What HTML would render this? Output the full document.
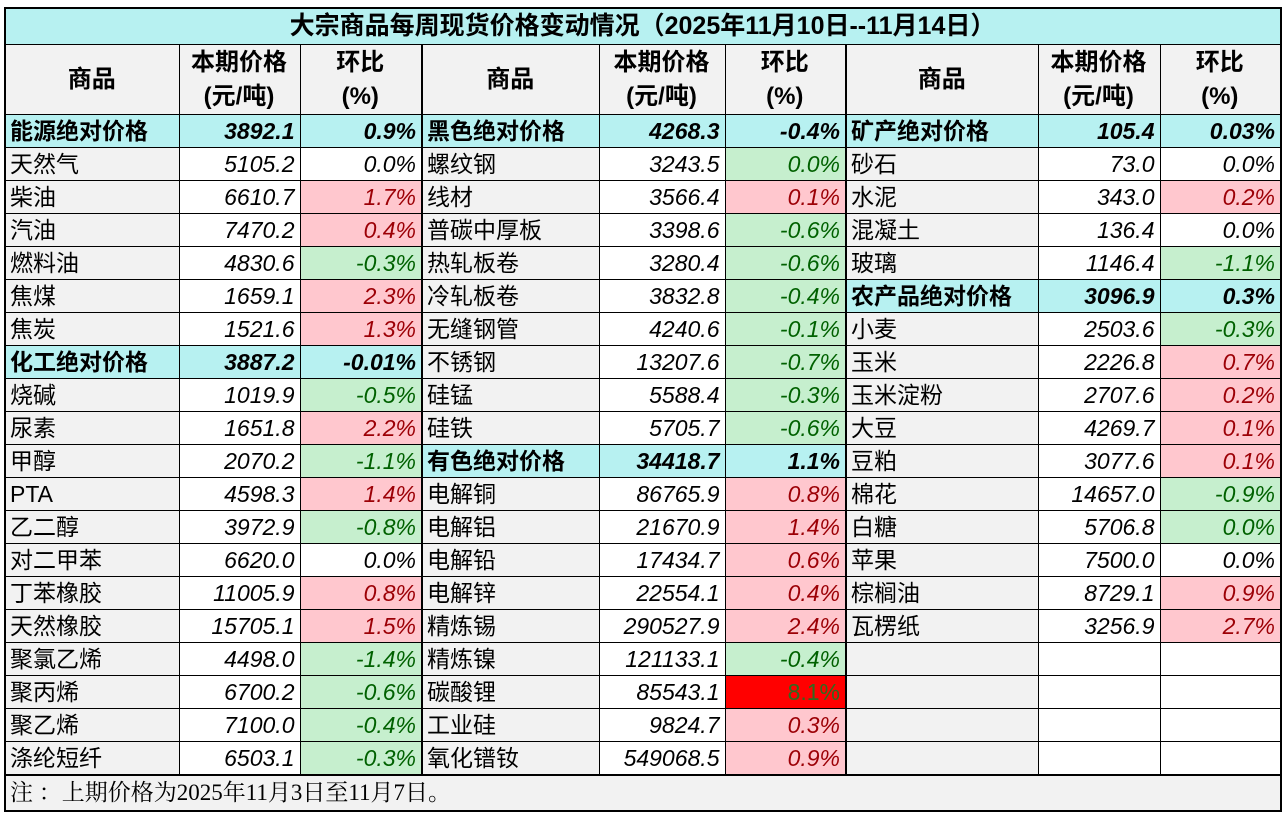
<!DOCTYPE html>
<html><head><meta charset="utf-8"><style>
html,body{margin:0;padding:0;background:#fff;width:1286px;height:820px;overflow:hidden}
table{position:absolute;left:4px;top:7px;border-collapse:collapse;table-layout:fixed;font-family:"Liberation Sans","Noto Sans CJK SC",sans-serif;border:2px solid #000}
td{border:1px solid #000;padding:0 5px 0 4px;height:32px;font-size:23px;white-space:nowrap;overflow:hidden;color:#000;line-height:32px}
.t td{height:35px;background:#b7f1f1;font-weight:bold;text-align:center;font-size:25px;line-height:35px}
.h td{height:69px;background:#f2f2f2;font-weight:bold;text-align:center;font-size:24px;line-height:34px}
.n{background:#f2f2f2;text-align:left}
.v{background:#fff;text-align:right;font-style:italic}
.c{background:#b7f1f1;font-weight:bold}
.c.v{font-style:italic}
.p{background:#ffc7ce;color:#9c0006;text-align:right;font-style:italic}
.g{background:#c6efce;color:#006100;text-align:right;font-style:italic}
.z{background:#fff;text-align:right;font-style:italic}
.r{background:#ff0000;color:#2e6b1e;text-align:right}
.e{background:#fff}
.f td{height:34px;background:#f2f2f2;font-family:"Liberation Serif","Noto Serif CJK SC",serif;font-size:23px}
.b3{border-right:2px solid #000}
</style></head><body>
<table>
<colgroup><col style="width:174px"><col style="width:121px"><col style="width:122px"><col style="width:177px"><col style="width:126px"><col style="width:121px"><col style="width:192px"><col style="width:122px"><col style="width:121px"></colgroup>
<tr class="t"><td colspan="9">大宗商品每周现货价格变动情况（2025年11月10日--11月14日）</td></tr>
<tr class="h"><td>商品</td><td>本期价格<br>(元/吨)</td><td class="b3">环比<br>(%)</td><td>商品</td><td>本期价格<br>(元/吨)</td><td class="b3">环比<br>(%)</td><td>商品</td><td>本期价格<br>(元/吨)</td><td>环比<br>(%)</td></tr>
<tr><td class="n c">能源绝对价格</td><td class="v c">3892.1</td><td class="v c b3">0.9%</td><td class="n c">黑色绝对价格</td><td class="v c">4268.3</td><td class="v c b3">-0.4%</td><td class="n c">矿产绝对价格</td><td class="v c">105.4</td><td class="v c">0.03%</td></tr>
<tr><td class="n">天然气</td><td class="v">5105.2</td><td class="z b3">0.0%</td><td class="n">螺纹钢</td><td class="v">3243.5</td><td class="g b3">0.0%</td><td class="n">砂石</td><td class="v">73.0</td><td class="z">0.0%</td></tr>
<tr><td class="n">柴油</td><td class="v">6610.7</td><td class="p b3">1.7%</td><td class="n">线材</td><td class="v">3566.4</td><td class="p b3">0.1%</td><td class="n">水泥</td><td class="v">343.0</td><td class="p">0.2%</td></tr>
<tr><td class="n">汽油</td><td class="v">7470.2</td><td class="p b3">0.4%</td><td class="n">普碳中厚板</td><td class="v">3398.6</td><td class="g b3">-0.6%</td><td class="n">混凝土</td><td class="v">136.4</td><td class="z">0.0%</td></tr>
<tr><td class="n">燃料油</td><td class="v">4830.6</td><td class="g b3">-0.3%</td><td class="n">热轧板卷</td><td class="v">3280.4</td><td class="g b3">-0.6%</td><td class="n">玻璃</td><td class="v">1146.4</td><td class="g">-1.1%</td></tr>
<tr><td class="n">焦煤</td><td class="v">1659.1</td><td class="p b3">2.3%</td><td class="n">冷轧板卷</td><td class="v">3832.8</td><td class="g b3">-0.4%</td><td class="n c">农产品绝对价格</td><td class="v c">3096.9</td><td class="v c">0.3%</td></tr>
<tr><td class="n">焦炭</td><td class="v">1521.6</td><td class="p b3">1.3%</td><td class="n">无缝钢管</td><td class="v">4240.6</td><td class="g b3">-0.1%</td><td class="n">小麦</td><td class="v">2503.6</td><td class="g">-0.3%</td></tr>
<tr><td class="n c">化工绝对价格</td><td class="v c">3887.2</td><td class="v c b3">-0.01%</td><td class="n">不锈钢</td><td class="v">13207.6</td><td class="g b3">-0.7%</td><td class="n">玉米</td><td class="v">2226.8</td><td class="p">0.7%</td></tr>
<tr><td class="n">烧碱</td><td class="v">1019.9</td><td class="g b3">-0.5%</td><td class="n">硅锰</td><td class="v">5588.4</td><td class="g b3">-0.3%</td><td class="n">玉米淀粉</td><td class="v">2707.6</td><td class="p">0.2%</td></tr>
<tr><td class="n">尿素</td><td class="v">1651.8</td><td class="p b3">2.2%</td><td class="n">硅铁</td><td class="v">5705.7</td><td class="g b3">-0.6%</td><td class="n">大豆</td><td class="v">4269.7</td><td class="p">0.1%</td></tr>
<tr><td class="n">甲醇</td><td class="v">2070.2</td><td class="g b3">-1.1%</td><td class="n c">有色绝对价格</td><td class="v c">34418.7</td><td class="v c b3">1.1%</td><td class="n">豆粕</td><td class="v">3077.6</td><td class="p">0.1%</td></tr>
<tr><td class="n">PTA</td><td class="v">4598.3</td><td class="p b3">1.4%</td><td class="n">电解铜</td><td class="v">86765.9</td><td class="p b3">0.8%</td><td class="n">棉花</td><td class="v">14657.0</td><td class="g">-0.9%</td></tr>
<tr><td class="n">乙二醇</td><td class="v">3972.9</td><td class="g b3">-0.8%</td><td class="n">电解铝</td><td class="v">21670.9</td><td class="p b3">1.4%</td><td class="n">白糖</td><td class="v">5706.8</td><td class="g">0.0%</td></tr>
<tr><td class="n">对二甲苯</td><td class="v">6620.0</td><td class="z b3">0.0%</td><td class="n">电解铅</td><td class="v">17434.7</td><td class="p b3">0.6%</td><td class="n">苹果</td><td class="v">7500.0</td><td class="z">0.0%</td></tr>
<tr><td class="n">丁苯橡胶</td><td class="v">11005.9</td><td class="p b3">0.8%</td><td class="n">电解锌</td><td class="v">22554.1</td><td class="p b3">0.4%</td><td class="n">棕榈油</td><td class="v">8729.1</td><td class="p">0.9%</td></tr>
<tr><td class="n">天然橡胶</td><td class="v">15705.1</td><td class="p b3">1.5%</td><td class="n">精炼锡</td><td class="v">290527.9</td><td class="p b3">2.4%</td><td class="n">瓦楞纸</td><td class="v">3256.9</td><td class="p">2.7%</td></tr>
<tr><td class="n">聚氯乙烯</td><td class="v">4498.0</td><td class="g b3">-1.4%</td><td class="n">精炼镍</td><td class="v">121133.1</td><td class="g b3">-0.4%</td><td class="n"></td><td class="e"></td><td class="e"></td></tr>
<tr><td class="n">聚丙烯</td><td class="v">6700.2</td><td class="g b3">-0.6%</td><td class="n">碳酸锂</td><td class="v">85543.1</td><td class="r b3">8.1%</td><td class="n"></td><td class="e"></td><td class="e"></td></tr>
<tr><td class="n">聚乙烯</td><td class="v">7100.0</td><td class="g b3">-0.4%</td><td class="n">工业硅</td><td class="v">9824.7</td><td class="p b3">0.3%</td><td class="n"></td><td class="e"></td><td class="e"></td></tr>
<tr><td class="n">涤纶短纤</td><td class="v">6503.1</td><td class="g b3">-0.3%</td><td class="n">氧化镨钕</td><td class="v">549068.5</td><td class="p b3">0.9%</td><td class="n"></td><td class="e"></td><td class="e"></td></tr>
<tr class="f"><td colspan="9" style="border-top:2px solid #000">注 ：上期价格为2025年11月3日至11月7日。</td></tr>
</table>
</body></html>
